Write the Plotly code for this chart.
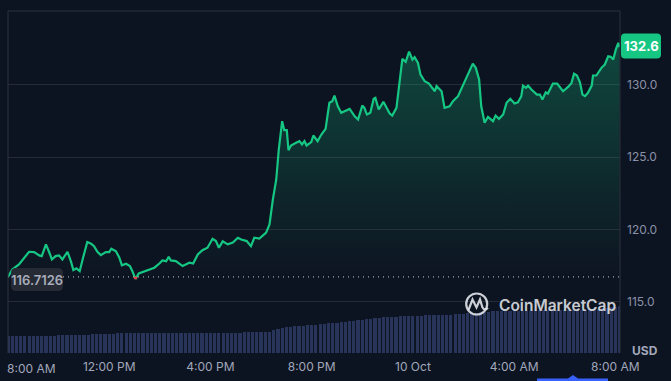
import plotly.graph_objects as go
import pandas as pd

# ---------------- data ----------------
START = "2024-10-09 08:00"
OPEN_PRICE = 116.7126
LAST_LABEL = "132.6"

price_minutes = [
    0, 10, 26, 50, 62, 74, 80, 90, 98, 104, 113, 121, 129, 141, 149, 155, 162, 170, 178, 188,
    197, 204, 212, 220, 232, 240, 245, 256, 264, 270, 280, 289, 295, 302, 310, 319, 327, 335, 347, 359,
    366, 375, 381, 386, 398, 414, 430, 439, 450, 461, 473, 485, 493, 500, 509, 521, 533, 545, 553, 566,
    576, 584, 596, 612, 620, 628, 636, 642, 650, 655, 661, 665, 671, 683, 691, 697, 703, 708, 719, 724,
    734, 743, 753, 762, 769, 774, 782, 790, 810, 822, 830, 840, 845, 851, 859, 867, 871, 879, 890, 905,
    911, 921, 926, 935, 943, 951, 959, 964, 972, 978, 988, 998, 1012, 1016, 1028, 1035, 1047, 1055, 1067, 1075,
    1087, 1095, 1102, 1109, 1117, 1122, 1130, 1138, 1150, 1156, 1164, 1174, 1182, 1191, 1201, 1209, 1217, 1221, 1228, 1233,
    1241, 1254, 1261, 1267, 1275, 1280, 1292, 1302, 1316, 1328, 1336, 1342, 1349, 1356, 1362, 1368, 1375, 1384, 1387, 1395,
    1407, 1415, 1423, 1429, 1435, 1441, 1447, 1450,
]
price_values = [
    116.71, 117.23, 117.58, 118.45, 118.43, 118.20, 118.15, 118.96, 118.40, 117.92, 118.15, 118.20, 117.92, 118.45, 117.80, 117.18, 117.30, 117.11, 118.04, 119.12,
    119.01, 118.84, 118.45, 118.22, 118.43, 118.43, 118.66, 118.49, 118.04, 117.51, 117.62, 117.46, 117.11, 116.57, 116.95, 117.04, 117.11, 117.18, 117.35, 117.64,
    117.85, 117.80, 118.11, 117.85, 117.80, 117.46, 117.69, 117.64, 118.27, 118.56, 118.73, 119.35, 119.19, 118.73, 119.17, 118.96, 119.08, 119.42, 119.30, 119.19,
    118.84, 119.42, 119.37, 119.77, 120.34, 122.07, 123.45, 125.52, 127.48, 126.86, 126.86, 125.47, 125.80, 125.99, 126.10, 125.87, 126.10, 125.80, 126.03, 126.49,
    126.10, 126.56, 126.95, 128.75, 128.86, 129.25, 128.51, 128.06, 128.33, 127.82, 127.60, 128.56, 128.40, 127.94, 128.06, 129.03, 129.09, 128.29, 128.82, 128.01,
    127.87, 128.40, 129.67, 131.79, 131.58, 132.29, 131.74, 131.91, 131.51, 130.70, 130.24, 130.08, 129.55, 129.91, 129.55, 128.40, 128.51, 128.86, 129.21, 129.72,
    130.48, 131.05, 131.46, 131.17, 130.36, 128.51, 127.37, 127.78, 127.48, 127.87, 127.64, 127.94, 128.75, 129.03, 128.70, 128.79, 129.21, 129.94, 129.79, 129.94,
    129.67, 129.32, 129.32, 128.98, 129.48, 129.39, 130.08, 130.08, 129.55, 129.85, 130.13, 130.77, 130.64, 130.17, 129.32, 129.21, 129.44, 129.94, 130.64, 130.64,
    131.17, 131.40, 131.97, 131.93, 131.74, 132.43, 132.90, 132.60,
]

volume_minutes = list(range(0, 1451, 10))
volume_values = [
    17, 17, 17, 17, 17, 17, 17, 17, 17.5, 17.5, 17.5, 17.5, 18, 18, 18, 18,
    18, 18, 18.5, 18.5, 19, 19, 19, 19, 19.5, 19.5, 20, 20,
    20, 20, 20, 20, 20, 20, 20, 20, 20, 20, 20.2, 20.2, 20.2, 20.2, 20.2, 20.2, 20.2, 20.2, 20.2, 20.2,
    20.4, 20.4, 20.4, 20.4, 20.4, 20.4, 20.4, 20.4, 20.6, 20.6, 20.6, 20.6, 20.6,
    21, 21.5,
    23, 24.5, 25.5, 26,
    26.5, 27, 27, 27.5, 28, 28, 28.5, 29, 29.5, 30, 30, 30.5, 31, 31.5,
    32, 32.5, 33, 33.5, 34, 34.5, 35, 35.5, 36, 36, 36.5, 36.5, 37, 37, 37, 37.5, 37.5, 37.5, 38, 38,
    38, 38, 38.5, 38.5, 38.5, 39, 39, 39.5, 40, 40, 40.5, 41, 41, 41.5, 42, 42, 42,
    42, 42, 42.5, 42.5, 42.5, 42.5, 42.5, 43, 43, 43, 43, 43, 43, 43, 43.5, 43.5, 43.5, 43.5, 43.5, 43.5,
    44, 44, 44.5, 45, 45.5, 46, 46.5, 47,
]

x_tick_minutes = [0, 240, 480, 720, 960, 1200, 1440]
x_tick_labels = ["8:00 AM", "12:00 PM", "4:00 PM", "8:00 PM", "10 Oct", "4:00 AM", "8:00 AM"]
y_tick_values = [115, 120, 125, 130]
y_tick_labels = ["115.0", "120.0", "125.0", "130.0"]

# ---------------- styling / geometry ----------------
W, H = 671, 381
ML, MR, MT, MB = 8, 51, 11, 28
PW, PH = W - ML - MR, H - MT - MB
BG = "#0d1421"
GREEN = "#16c784"
RED = "#ea3943"
GRID = "#262b37"
FONT = "Inter, Roboto, sans-serif"

t0 = pd.Timestamp(START)
def tm(m):
    return t0 + pd.Timedelta(minutes=m)

px_t = [tm(m) for m in price_minutes]
vol_t = [tm(m) for m in volume_minutes]

def pxx(x):
    return (x - ML) / PW
def pxy(y):
    return (MT + PH - y) / PH

def rounded_rect(x0, y0, x1, y1, r):
    p = lambda x, y: f"{pxx(x):.5f},{pxy(y):.5f}"
    return (f"M {p(x0 + r, y0)} L {p(x1 - r, y0)} Q {p(x1, y0)} {p(x1, y0 + r)} "
            f"L {p(x1, y1 - r)} Q {p(x1, y1)} {p(x1 - r, y1)} L {p(x0 + r, y1)} "
            f"Q {p(x0, y1)} {p(x0, y1 - r)} L {p(x0, y0 + r)} Q {p(x0, y0)} {p(x0 + r, y0)} Z")

# red segments (below opening price)
red_x, red_y = [], []
for i in range(len(price_values) - 1):
    a, b = price_values[i], price_values[i + 1]
    ma, mb = price_minutes[i], price_minutes[i + 1]
    if a >= OPEN_PRICE and b >= OPEN_PRICE:
        continue
    seg = []
    if a < OPEN_PRICE:
        seg.append((ma, a))
    else:
        f = (a - OPEN_PRICE) / (a - b)
        seg.append((ma + f * (mb - ma), OPEN_PRICE))
    if b < OPEN_PRICE:
        seg.append((mb, b))
    else:
        f = (a - OPEN_PRICE) / (a - b)
        seg.append((ma + f * (mb - ma), OPEN_PRICE))
    for m, v in seg:
        red_x.append(tm(m)); red_y.append(v)
    red_x.append(None); red_y.append(None)

fig = go.Figure()

fig.add_trace(go.Bar(
    x=vol_t, y=volume_values, yaxis="y2",
    marker=dict(color="#29345a", line=dict(width=0)),
    width=7.5 * 60 * 1000, hoverinfo="skip",
))

fig.add_trace(go.Scatter(
    x=[tm(price_minutes[0]), tm(price_minutes[-1])], y=[OPEN_PRICE, OPEN_PRICE],
    mode="lines", line=dict(width=0, color="rgba(0,0,0,0)"), hoverinfo="skip", showlegend=False,
))
fig.add_trace(go.Scatter(
    x=px_t, y=price_values, mode="lines",
    line=dict(color=GREEN, width=2.2, shape="linear"),
    fill="tonexty",
    fillgradient=dict(type="vertical",
                      colorscale=[[0, "rgba(22,199,132,0.0)"], [1, "rgba(22,199,132,0.30)"]],
                      start=OPEN_PRICE, stop=133.5),
    hoverinfo="skip", showlegend=False,
))
fig.add_trace(go.Scatter(
    x=red_x, y=red_y, mode="lines", line=dict(color=RED, width=2.2),
    hoverinfo="skip", showlegend=False, connectgaps=False,
))

shapes = [
    dict(type="line", xref="paper", yref="y", x0=0, x1=1, y0=OPEN_PRICE, y1=OPEN_PRICE,
         line=dict(color="#9ea3b0", width=1.2, dash="1px,4px"), layer="above"),
    dict(type="line", xref="paper", yref="paper", x0=0, x1=0, y0=0, y1=1, line=dict(color="#2d323e", width=1)),
    dict(type="line", xref="paper", yref="paper", x0=0, x1=1, y0=1, y1=1, line=dict(color="#2d323e", width=1)),
    dict(type="line", xref="paper", yref="paper", x0=1, x1=1, y0=0, y1=1, line=dict(color="#2d323e", width=1)),
    dict(type="path", xref="paper", yref="paper", path=rounded_rect(11, 268, 63, 291, 5),
         fillcolor="#262a35", line=dict(width=0), layer="above"),
    dict(type="path", xref="paper", yref="paper", path=rounded_rect(621, 33.5, 661, 58.5, 4),
         fillcolor=GREEN, line=dict(width=0), layer="above"),
    dict(type="path", xref="paper", yref="paper",
         path=(f"M {pxx(537):.5f},{pxy(378.5):.5f} L {pxx(568):.5f},{pxy(378.5):.5f} "
               f"L {pxx(573):.5f},{pxy(375):.5f} L {pxx(578):.5f},{pxy(378.5):.5f} "
               f"L {pxx(608):.5f},{pxy(378.5):.5f} L {pxx(608):.5f},{pxy(382):.5f} "
               f"L {pxx(537):.5f},{pxy(382):.5f} Z"),
         fillcolor="#3861fb", line=dict(width=0), layer="above"),
    dict(type="circle", xref="paper", yref="paper",
         x0=pxx(476.7 - 10.5), x1=pxx(476.7 + 10.5), y0=pxy(304 + 10.5), y1=pxy(304 - 10.5),
         line=dict(color="rgba(225,228,234,0.9)", width=2.2), layer="above"),
    dict(type="path", xref="paper", yref="paper",
         path=(f"M {pxx(468.5):.5f},{pxy(310):.5f} L {pxx(472.5):.5f},{pxy(299.5):.5f} "
               f"L {pxx(476.5):.5f},{pxy(307.5):.5f} L {pxx(480):.5f},{pxy(299.5):.5f} "
               f"L {pxx(482.5):.5f},{pxy(307.5):.5f} Q {pxx(484.5):.5f},{pxy(311):.5f} {pxx(488):.5f},{pxy(308):.5f}"),
         line=dict(color="rgba(225,228,234,0.9)", width=2.2), layer="above"),
]

annotations = [
    dict(xref="paper", yref="paper", x=pxx(37), y=pxy(279.5), text="116.7126", showarrow=False,
         font=dict(family=FONT, size=13, color="#a7acba", weight=600), xanchor="center", yanchor="middle"),
    dict(xref="paper", yref="paper", x=pxx(641), y=pxy(46), text=LAST_LABEL, showarrow=False,
         font=dict(family=FONT, size=13, color="#ffffff", weight=700), xanchor="center", yanchor="middle"),
    dict(xref="paper", yref="paper", x=pxx(644.5), y=pxy(350.5), text="USD", showarrow=False,
         font=dict(family=FONT, size=12, color="#a1a7bb", weight=700), xanchor="center", yanchor="middle"),
    dict(xref="paper", yref="paper", x=pxx(31), y=pxy(368.5), text=x_tick_labels[0], showarrow=False,
         font=dict(family=FONT, size=12, color="#a1a7bb"), xanchor="center", yanchor="middle"),
    dict(xref="paper", yref="paper", x=pxx(497), y=pxy(305), text="CoinMarketCap", showarrow=False,
         font=dict(family=FONT, size=15.5, color="rgba(225,228,234,0.9)", weight=600),
         xanchor="left", yanchor="middle"),
]

fig.update_layout(
    width=W, height=H,
    margin=dict(l=ML, r=MR, t=MT, b=MB, pad=0),
    paper_bgcolor=BG, plot_bgcolor=BG,
    showlegend=False,
    bargap=0,
    font=dict(family=FONT, color="#a1a7bb", size=12),
    xaxis=dict(
        type="date", range=[tm(0), tm(1451)],
        tickvals=[tm(m) for m in x_tick_minutes[1:]], ticktext=x_tick_labels[1:],
        showgrid=False, zeroline=False, showline=False, ticks="",
        tickfont=dict(family=FONT, size=12, color="#a1a7bb"),
        ticklabelstandoff=5,
        fixedrange=True,
    ),
    yaxis=dict(
        side="right", range=[111.45, 135.1],
        tickvals=y_tick_values, ticktext=y_tick_labels,
        showgrid=True, gridcolor=GRID, gridwidth=1, zeroline=False, showline=False, ticks="",
        tickfont=dict(family=FONT, size=12, color="#8a91a8"),
        ticklabelstandoff=6,
    ),
    yaxis2=dict(overlaying="y", range=[0, PH], visible=False, showgrid=False),
    shapes=shapes,
    annotations=annotations,
)

fig.write_html(
    "out.html",
    config={"displayModeBar": False},
    post_script="document.body.style.margin='0';document.body.style.background='#0d1421';",
)
